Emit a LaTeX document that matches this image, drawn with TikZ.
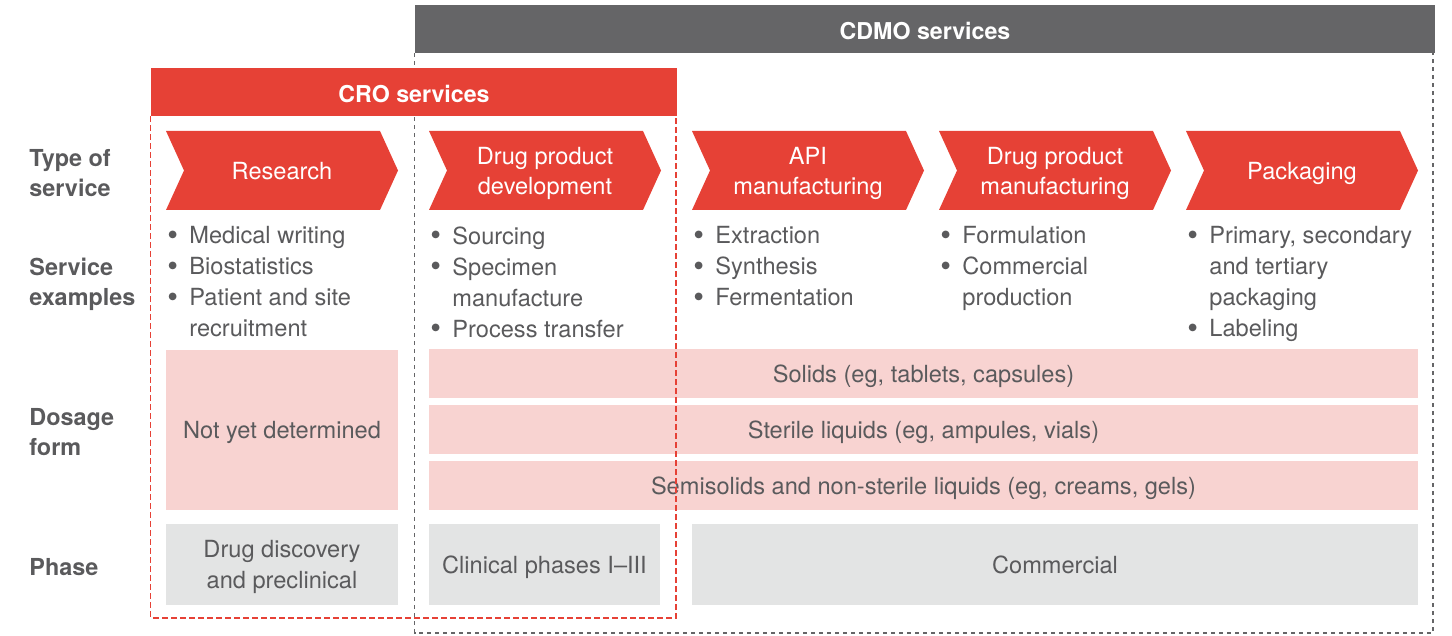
\documentclass[tikz,border=0pt]{standalone}
\usepackage{fontspec}
\setmainfont{TeX Gyre Heros}
\usepackage{tikz}
\usetikzlibrary{shapes.symbols}
\usepackage{xcolor}

\definecolor{svred}{HTML}{E64136}
\definecolor{svdark}{HTML}{656567}
\definecolor{svpink}{HTML}{F8D3D1}
\definecolor{svlight}{HTML}{E3E4E4}
\definecolor{svtext}{HTML}{5A5A5C}

\newcommand{\bul}{\makebox[11.5pt][l]{\hspace{0.5pt}\raisebox{-0.9pt}{\scalebox{1.3}{\textbullet}}}}
\newcommand{\ind}{\hspace*{11.5pt}}

\begin{document}
\begin{tikzpicture}[x=0.5pt,y=-0.5pt,
    body/.style={font=\fontsize{11.8}{15.5}\selectfont,text=svtext},
    head/.style={fill=#1,inner sep=0pt,text=white,minimum height=24pt,
        text height=10.5pt,text depth=0pt,font=\fontsize{11.6}{13}\selectfont\bfseries},
    rowlabel/.style={anchor=north west,inner sep=0pt,align=left,text=svtext,
        font=\fontsize{11.7}{15}\selectfont\bfseries},
    chev/.style={signal,signal from=west,signal to=east,signal pointer angle=131,
        fill=svred,inner sep=0pt,minimum width=116pt,minimum height=39.5pt,
        align=center,font=\fontsize{11.8}{15}\selectfont,text=white,text depth=0pt},
    bullets/.style={body,anchor=north west,inner sep=0pt,align=left},
    box/.style={fill=#1,inner sep=0pt,body,align=center,text depth=0pt},
    graydash/.style={draw=svdark,line width=0.75pt,dash pattern=on 2pt off 2pt},
    reddash/.style={draw=svred,line width=0.75pt,dash pattern=on 3pt off 1.5pt}]
   \useasboundingbox (0,0) rectangle (1452,636);

   % CDMO frame
   \node[head=svdark,minimum width=510pt] (cdmo) at (925,29) {CDMO services};
   \coordinate (cdmoend) at (1433,633);
   \draw[graydash] (cdmo.south west) |- (cdmoend) -- (cdmoend |- cdmo.south);

   % CRO header
   \node[head=svred,minimum width=263pt] (cro) at (414,92) {CRO services};

   % row labels
   \node[rowlabel] (ltype) at (29,149) {Type of\\service};
   \node[rowlabel] (lexam) at (29,258) {Service\\examples};
   \node[rowlabel] (ldose) at (29,408) {Dosage\\form};
   \node[rowlabel] (lphase) at (29,558) {Phase};

   % type of service
   \node[chev] (research) at (282,170.5) {Research};
   \node[chev] (dpdev) at (545,170.5) {Drug product\\development};
   \node[chev] (api) at (808,170.5) {API\\manufacturing};
   \node[chev] (dpman) at (1055,170.5) {Drug product\\manufacturing};
   \node[chev] (pack) at (1302,170.5) {Packaging};

   % service examples
   \node[bullets] (exresearch) at (166,226)
      {\bul Medical writing\\\bul Biostatistics\\\bul Patient and site\\\ind recruitment};
   \node[bullets] (exdpdev) at (429,226)
      {\bul Sourcing\\\bul Specimen\\\ind manufacture\\\bul Process transfer};
   \node[bullets] (exapi) at (692,226)
      {\bul Extraction\\\bul Synthesis\\\bul Fermentation};
   \node[bullets] (exdpman) at (939,226)
      {\bul Formulation\\\bul Commercial\\\ind production};
   \node[bullets] (expack) at (1186,226)
      {\bul Primary, secondary\\\ind and tertiary\\\ind packaging\\\bul Labeling};

   % dosage form
   \node[box=svpink,minimum width=116pt,minimum height=80pt] (notyet) at (282,430) {Not yet determined};
   \node[box=svpink,minimum width=494.5pt,minimum height=24.5pt] (solids) at (923.5,373.5) {Solids (eg, tablets, capsules)};
   \node[box=svpink,minimum width=494.5pt,minimum height=24.5pt] (sterile) at (923.5,429.5) {Sterile liquids (eg, ampules, vials)};
   \node[box=svpink,minimum width=494.5pt,minimum height=24.5pt] (semi) at (923.5,485.5) {Semisolids and non-sterile liquids (eg, creams, gels)};

   % phase
   \node[box=svlight,minimum width=116pt,minimum height=40.5pt] (preclin) at (282,564.5) {Drug discovery\\and preclinical};
   \node[box=svlight,minimum width=115.5pt,minimum height=40.5pt] (clinical) at (544.5,564.5) {Clinical phases I--III};
   \node[box=svlight,minimum width=363pt,minimum height=40.5pt] (commercial) at (1055,564.5) {Commercial};

   % CRO frame
   \coordinate (croend) at (676,618);
   \draw[reddash] (cro.south west) |- (croend) -- (croend |- cro.south);
\end{tikzpicture}
\end{document}
